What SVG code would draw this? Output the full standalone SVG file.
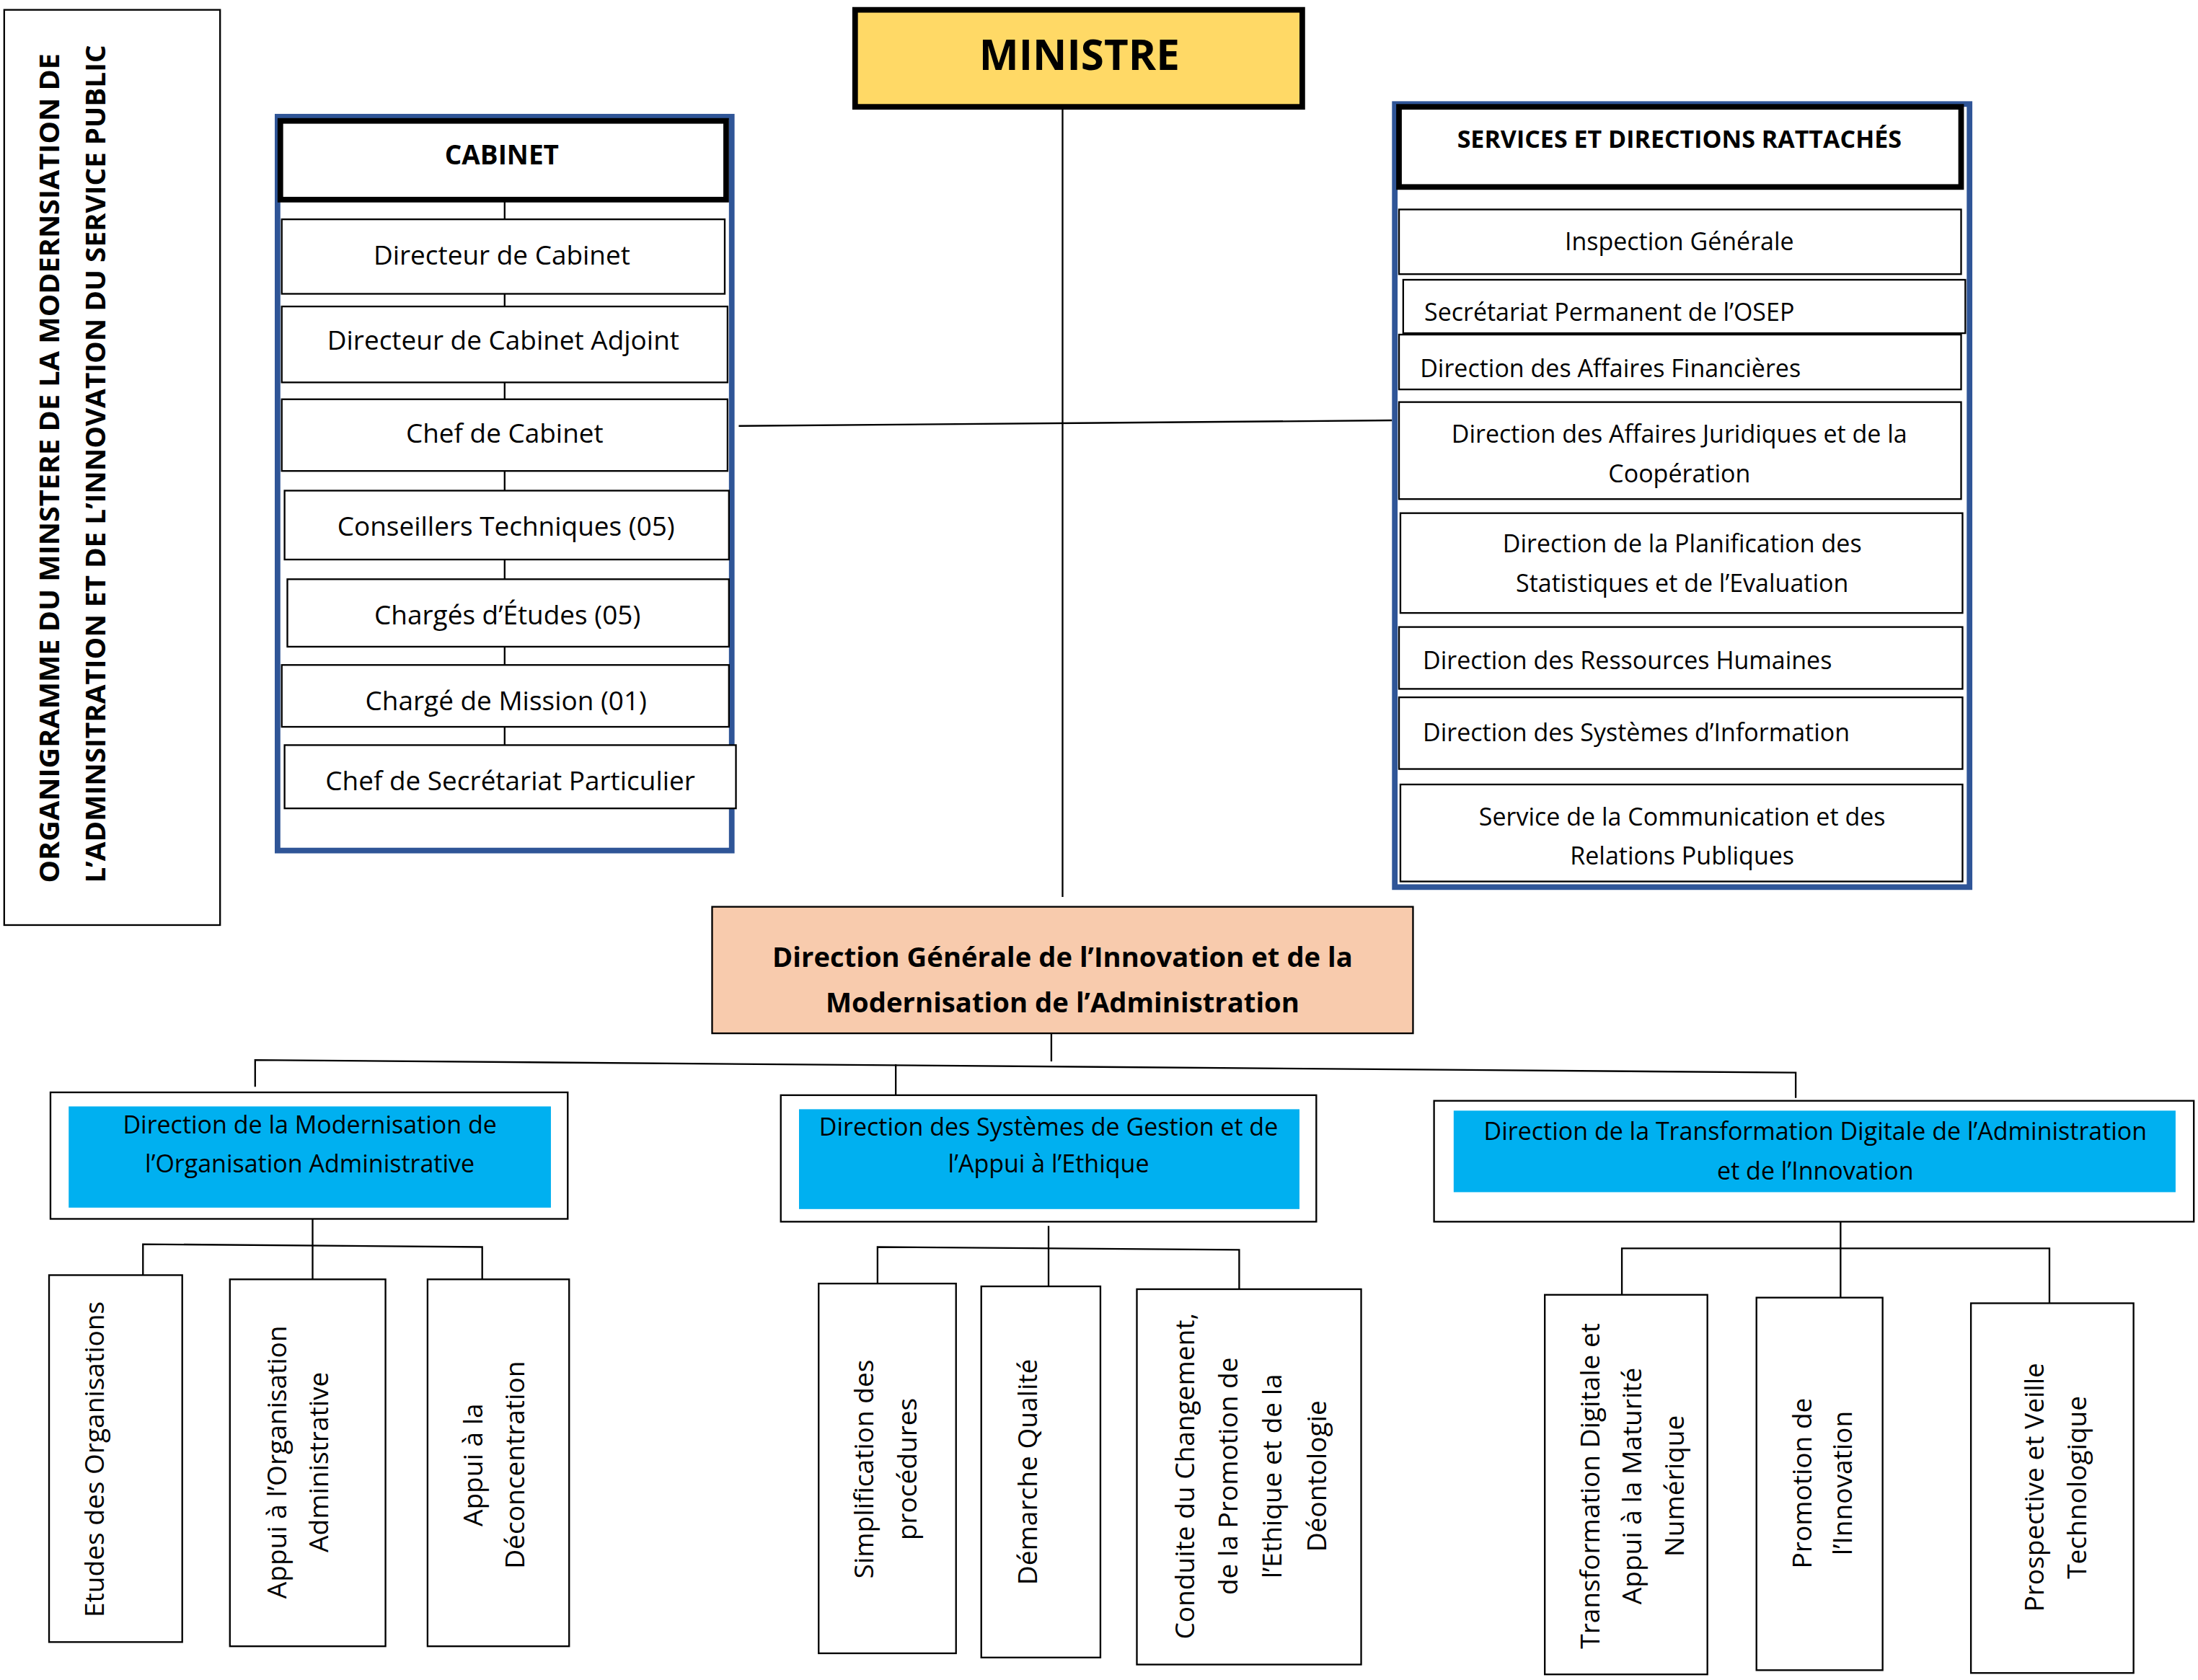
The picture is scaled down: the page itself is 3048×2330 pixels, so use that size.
<svg xmlns="http://www.w3.org/2000/svg" width="3048" height="2330" viewBox="0 0 3048 2330">
<style>
.b{fill:#fff;stroke:#000;stroke-width:1.2}
.h{fill:#fff;stroke:#000;stroke-width:4}
.blue{fill:none;stroke:#2F5597;stroke-width:4}
.c{fill:none;stroke:#000;stroke-width:1.2}
.cy{fill:#00B0F0;stroke:none}
text{font-family:"Open Sans","Liberation Sans",sans-serif;fill:#000}
.t{font-size:19px;text-anchor:middle}
.s{font-size:17.5px}
.sm{font-size:17.5px;text-anchor:middle}
.v{font-size:19px;text-anchor:middle}
.bd{font-weight:bold}
</style>
<rect width="3048" height="2330" fill="#fff"/>
<g transform="scale(1.9439,1.9498)">
<g id="title">
<rect x="3" y="7" width="154" height="651" class="b"/>
<text class="bd" font-size="19" transform="translate(42,628) rotate(-90)" textLength="590" lengthAdjust="spacingAndGlyphs">ORGANIGRAMME DU MINSTERE DE LA MODERNSIATION DE</text>
<text class="bd" font-size="19" transform="translate(75,628) rotate(-90)" textLength="596" lengthAdjust="spacingAndGlyphs">L’ADMINSITRATION ET DE L’INNOVATION DU SERVICE PUBLIC</text>
</g>
<g id="connectors">
<line x1="758" y1="76" x2="758" y2="638" class="c"/>
<line x1="527" y1="303" x2="993" y2="299" class="c"/>
<line x1="360" y1="142" x2="360" y2="530" class="c"/>
<line x1="750" y1="735" x2="750" y2="755" class="c"/>
<polyline points="182,773 182,754 1281,763 1281,781" class="c"/>
<line x1="639" y1="757" x2="639" y2="780" class="c"/>
<line x1="223" y1="867" x2="223" y2="910" class="c"/>
<polyline points="102,907 102,885 344,887 344,910" class="c"/>
<line x1="748" y1="872" x2="748" y2="915" class="c"/>
<polyline points="626,913 626,887 884,889 884,917" class="c"/>
<line x1="1313" y1="869" x2="1313" y2="923" class="c"/>
<polyline points="1157,921 1157,888 1462,888 1462,927" class="c"/>
</g>
<g id="ministre">
<rect x="610" y="7" width="319" height="69" fill="#FFD966" stroke="#000" stroke-width="4"/>
<text x="770" y="50" class="bd" font-size="30" text-anchor="middle">MINISTRE</text>
</g>
<g id="cabinet">
<rect x="198" y="83" width="324" height="522" class="blue"/>
<rect x="200" y="86" width="318" height="56" class="h"/>
<text x="358" y="117" class="bd" font-size="19" text-anchor="middle">CABINET</text>
<rect x="201" y="156" width="316" height="53" class="b"/><text x="358" y="188" class="t">Directeur de Cabinet</text>
<rect x="201" y="218" width="318" height="54" class="b"/><text x="359" y="249" class="t">Directeur de Cabinet Adjoint</text>
<rect x="201" y="284" width="318" height="51" class="b"/><text x="360" y="315" class="t">Chef de Cabinet</text>
<rect x="203" y="349" width="317" height="49" class="b"/><text x="361" y="381" class="t">Conseillers Techniques (05)</text>
<rect x="205" y="412" width="315" height="48" class="b"/><text x="362" y="444" class="t">Chargés d’Études (05)</text>
<rect x="201" y="473" width="319" height="44" class="b"/><text x="361" y="505" class="t">Chargé de Mission (01)</text>
<rect x="203" y="530" width="322" height="45" class="b"/><text x="364" y="562" class="t">Chef de Secrétariat Particulier</text>
</g>
<g id="services">
<rect x="995" y="74" width="410" height="557" class="blue"/>
<rect x="998" y="76" width="401" height="57" class="h"/>
<text x="1198" y="105" class="bd" font-size="17.5" text-anchor="middle">SERVICES ET DIRECTIONS RATTACHÉS</text>
<rect x="998" y="149" width="401" height="46" class="b"/><text x="1198" y="178" class="sm">Inspection Générale</text>
<rect x="1001" y="199" width="401" height="38" class="b"/><text x="1016" y="228" class="s">Secrétariat Permanent de l’OSEP</text>
<rect x="998" y="238" width="401" height="39" class="b"/><text x="1013" y="268" class="s">Direction des Affaires Financières</text>
<rect x="998" y="286" width="401" height="69" class="b"/><text x="1198" y="315" class="sm">Direction des Affaires Juridiques et de la</text><text x="1198" y="343" class="sm">Coopération</text>
<rect x="999" y="365" width="401" height="71" class="b"/><text x="1200" y="393" class="sm">Direction de la Planification des</text><text x="1200" y="421" class="sm">Statistiques et de l’Evaluation</text>
<rect x="998" y="446" width="402" height="44" class="b"/><text x="1015" y="476" class="s">Direction des Ressources Humaines</text>
<rect x="998" y="496" width="402" height="51" class="b"/><text x="1015" y="527" class="s">Direction des Systèmes d’Information</text>
<rect x="999" y="558" width="401" height="69" class="b"/><text x="1200" y="587" class="sm">Service de la Communication et des</text><text x="1200" y="615" class="sm">Relations Publiques</text>
</g>
<g id="dg">
<rect x="508" y="645" width="500" height="90" fill="#F8CBAD" stroke="#000" stroke-width="1.2"/>
<text x="758" y="688" class="bd" font-size="19" text-anchor="middle" textLength="414" lengthAdjust="spacingAndGlyphs">Direction Générale de l’Innovation et de la</text>
<text x="758" y="720" class="bd" font-size="19" text-anchor="middle" textLength="338" lengthAdjust="spacingAndGlyphs">Modernisation de l’Administration</text>
</g>
<g id="dmoa">
<rect x="36" y="777" width="369" height="90" class="b"/>
<rect x="49" y="787" width="344" height="72" class="cy"/>
<text x="221" y="806" class="sm">Direction de la Modernisation de</text>
<text x="221" y="834" class="sm">l’Organisation Administrative</text>
</g>
<g id="dsgae">
<rect x="557" y="779" width="382" height="90" class="b"/>
<rect x="570" y="789" width="357" height="71" class="cy"/>
<text x="748" y="808" class="sm">Direction des Systèmes de Gestion et de</text>
<text x="748" y="834" class="sm">l’Appui à l’Ethique</text>
</g>
<g id="dtdai">
<rect x="1023" y="783" width="542" height="86" class="b"/>
<rect x="1037" y="790" width="515" height="58" class="cy"/>
<text x="1295" y="811" class="sm">Direction de la Transformation Digitale de l’Administration</text>
<text x="1295" y="839" class="sm">et de l’Innovation</text>
</g>
<g id="etudes"><rect x="35" y="907" width="95" height="261" class="b"/><text class="v" transform="translate(74,1038) rotate(-90)">Etudes des Organisations</text></g>
<g id="appui-org"><rect x="164" y="910" width="111" height="261" class="b"/><text class="v" transform="translate(204,1040) rotate(-90)">Appui à l’Organisation</text><text class="v" transform="translate(234,1040) rotate(-90)">Administrative</text></g>
<g id="appui-dec"><rect x="305" y="910" width="101" height="261" class="b"/><text class="v" transform="translate(344,1042) rotate(-90)">Appui à la</text><text class="v" transform="translate(374,1042) rotate(-90)">Déconcentration</text></g>
<g id="simpl"><rect x="584" y="913" width="98" height="263" class="b"/><text class="v" transform="translate(623,1045) rotate(-90)">Simplification des</text><text class="v" transform="translate(654,1045) rotate(-90)">procédures</text></g>
<g id="qualite"><rect x="700" y="915" width="85" height="264" class="b"/><text class="v" transform="translate(740,1047) rotate(-90)">Démarche Qualité</text></g>
<g id="conduite"><rect x="811" y="917" width="160" height="267" class="b"/><text class="v" transform="translate(852,1050) rotate(-90)">Conduite du Changement,</text><text class="v" transform="translate(883,1050) rotate(-90)">de la Promotion de</text><text class="v" transform="translate(914,1050) rotate(-90)">l’Ethique et de la</text><text class="v" transform="translate(946,1050) rotate(-90)">Déontologie</text></g>
<g id="transfo"><rect x="1102" y="921" width="116" height="270" class="b"/><text class="v" transform="translate(1141,1057) rotate(-90)">Transformation Digitale et</text><text class="v" transform="translate(1171,1057) rotate(-90)">Appui à la Maturité</text><text class="v" transform="translate(1201,1057) rotate(-90)">Numérique</text></g>
<g id="promo"><rect x="1253" y="923" width="90" height="265" class="b"/><text class="v" transform="translate(1292,1055) rotate(-90)">Promotion de</text><text class="v" transform="translate(1321,1055) rotate(-90)">l’Innovation</text></g>
<g id="prosp"><rect x="1406" y="927" width="116" height="263" class="b"/><text class="v" transform="translate(1458,1058) rotate(-90)">Prospective et Veille</text><text class="v" transform="translate(1488,1058) rotate(-90)">Technologique</text></g>
</g>
</svg>
